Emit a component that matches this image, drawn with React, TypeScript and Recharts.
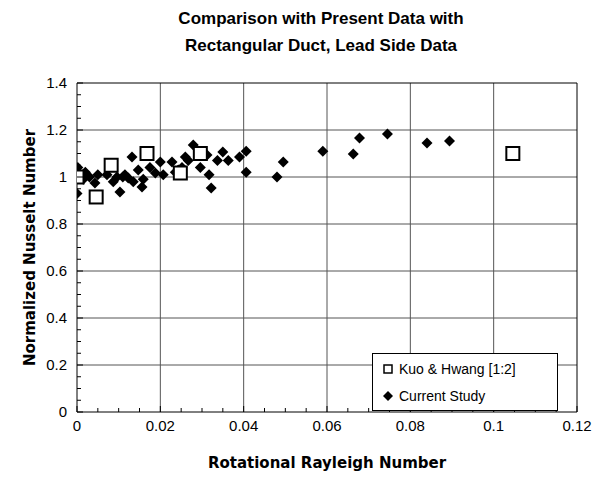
import React from 'react';
import { ScatterChart, Scatter, XAxis, YAxis, ReferenceLine, Legend } from 'recharts';

// Kuo & Hwang [1:2] (open squares)
const kuoX = [0.0, 0.0046, 0.0082, 0.0168, 0.0248, 0.0296, 0.1046];
const kuoY = [1.0, 0.915, 1.05, 1.1, 1.017, 1.1, 1.1];

// Current Study (filled diamonds)
const studyX = [
  0.0002, 0.0, 0.0015, 0.002, 0.003, 0.0043, 0.005, 0.0072, 0.0087, 0.0096,
  0.0103, 0.011, 0.0115, 0.0123, 0.0132, 0.0135, 0.0147, 0.0156, 0.0159, 0.0175,
  0.0188, 0.02, 0.0207, 0.0228, 0.0236, 0.0243, 0.0252, 0.026, 0.0267, 0.0279,
  0.0296, 0.0312, 0.0317, 0.0322, 0.0337, 0.035, 0.0363, 0.039, 0.0406, 0.0406,
  0.048, 0.0495, 0.059, 0.0663, 0.0678, 0.0745, 0.084, 0.0894,
];
const studyY = [
  1.04, 0.93, 0.99, 1.02, 1.0, 0.975, 1.01, 1.01, 0.98, 1.0,
  0.936, 1.0, 1.01, 0.996, 1.085, 0.98, 1.03, 0.957, 0.99, 1.04,
  1.017, 1.064, 1.01, 1.064, 1.02, 1.03, 1.04, 1.085, 1.07, 1.136,
  1.04, 1.094, 1.01, 0.953, 1.07, 1.106, 1.07, 1.085, 1.11, 1.02,
  1.0, 1.064, 1.11, 1.098, 1.166, 1.183, 1.145, 1.153,
];

const xMajor = [0, 0.02, 0.04, 0.06, 0.08, 0.1, 0.12];
const xTicks = [
  0, 0.005, 0.01, 0.015, 0.02, 0.025, 0.03, 0.035, 0.04, 0.045, 0.05, 0.055, 0.06,
  0.065, 0.07, 0.075, 0.08, 0.085, 0.09, 0.095, 0.1, 0.105, 0.11, 0.115, 0.12,
];
const yMajor = [0, 0.2, 0.4, 0.6, 0.8, 1, 1.2, 1.4];
const yTicks = [
  0, 0.05, 0.1, 0.15, 0.2, 0.25, 0.3, 0.35, 0.4, 0.45, 0.5, 0.55, 0.6, 0.65, 0.7,
  0.75, 0.8, 0.85, 0.9, 0.95, 1, 1.05, 1.1, 1.15, 1.2, 1.25, 1.3, 1.35, 1.4,
];

const kuoData = kuoX.map((x, i) => ({ x, y: kuoY[i] }));
const studyData = studyX.map((x, i) => ({ x, y: studyY[i] }));

const isMajor = (list: number[], v: number) => list.some((m) => Math.abs(m - v) < 1e-9);
const fmt = (v: number) => String(+v.toFixed(3));
const tickFont = { fontFamily: '"Liberation Sans", Arial, sans-serif', fontSize: 15, fill: '#000' };
const labelFont = { fontFamily: '"DejaVu Sans", sans-serif', fontSize: 15, fontWeight: 700, fill: '#000' };

const XTick = (props: any) => {
  const { x, y, payload } = props;
  const major = isMajor(xMajor, payload.value);
  return (
    <g>
      <line x1={x} x2={x} y1={y} y2={y - (major ? 6 : 4)} stroke="#000" />
      {major && (
        <text x={x} y={y + 19} textAnchor="middle" style={tickFont}>
          {fmt(payload.value)}
        </text>
      )}
    </g>
  );
};

const YTick = (props: any) => {
  const { x, y, payload } = props;
  const major = isMajor(yMajor, payload.value);
  return (
    <g>
      <line x1={x} x2={x + (major ? 6 : 4)} y1={y} y2={y} stroke="#000" />
      {major && (
        <text x={x - 10} y={y + 5} textAnchor="end" style={tickFont}>
          {fmt(payload.value)}
        </text>
      )}
    </g>
  );
};

const Diamond = (props: any) => {
  const { cx, cy } = props;
  const r = 5.5;
  return <path d={`M${cx},${cy - r}L${cx + r},${cy}L${cx},${cy + r}L${cx - r},${cy}Z`} fill="#000" />;
};

const OpenSquare = (props: any) => {
  const { cx, cy } = props;
  return <rect x={cx - 6.5} y={cy - 6.5} width={13} height={13} fill="#fff" stroke="#000" strokeWidth={2} />;
};

const LegendBox = () => (
  <div
    style={{
      border: '1px solid #000',
      width: 186,
      height: 58,
      boxSizing: 'border-box',
      fontFamily: '"Liberation Sans", Arial, sans-serif',
      fontSize: 14,
      color: '#000',
      background: '#fff',
      padding: '4px 0 0 10px',
    }}
  >
    <div style={{ display: 'flex', alignItems: 'center', height: 22 }}>
      <svg width={14} height={12}>
        <rect x={1} y={2} width={8} height={8} fill="#fff" stroke="#000" strokeWidth={1.5} />
      </svg>
      <span style={{ marginLeft: 2 }}>Kuo &amp; Hwang [1:2]</span>
    </div>
    <div style={{ display: 'flex', alignItems: 'center', height: 22, marginTop: 5 }}>
      <svg width={14} height={12}>
        <path d="M5,1L10,6L5,11L0,6Z" fill="#000" />
      </svg>
      <span style={{ marginLeft: 2 }}>Current Study</span>
    </div>
  </div>
);

export default function App() {
  return (
    <div style={{ position: 'absolute', left: 0, top: 0, width: 600, height: 483, background: '#fff' }}>
      <div
        style={{
          position: 'absolute',
          left: 21,
          top: 5,
          width: 600,
          textAlign: 'center',
          fontFamily: '"Liberation Sans", Arial, sans-serif',
          fontWeight: 700,
          fontSize: 17,
          lineHeight: '27px',
          color: '#000',
        }}
      >
        Comparison with Present Data with
        <br />
        Rectangular Duct, Lead Side Data
      </div>
      <ScatterChart width={600} height={483} margin={{ top: 83, right: 23, bottom: 11, left: 15 }}>
        <XAxis
          type="number"
          dataKey="x"
          domain={[0, 0.12]}
          ticks={xTicks}
          interval={0}
          tickSize={0}
          tickMargin={0}
          tickLine={false}
          tick={<XTick />}
          height={60}
          stroke="#000"
          allowDataOverflow
          label={{ value: 'Rotational Rayleigh Number', position: 'insideBottom', offset: 4, style: labelFont }}
        />
        <YAxis
          type="number"
          dataKey="y"
          domain={[0, 1.4]}
          ticks={yTicks}
          interval={0}
          tickSize={0}
          tickMargin={0}
          tickLine={false}
          tick={<YTick />}
          width={62}
          stroke="#000"
          allowDataOverflow
          label={{
            value: 'Normalized Nusselt Number',
            angle: -90,
            position: 'insideLeft',
            offset: 15,
            style: { ...labelFont, textAnchor: 'middle' },
          }}
        />
        {yMajor.slice(1, -1).map((v) => (
          <ReferenceLine key={`gy${v}`} y={v} stroke="#555" />
        ))}
        {xMajor.slice(1, -1).map((v) => (
          <ReferenceLine key={`gx${v}`} x={v} stroke="#555" />
        ))}
        <ReferenceLine y={1.4} stroke="#000" />
        <ReferenceLine x={0.12} stroke="#000" />
        <Legend
          layout="vertical"
          align="center"
          verticalAlign="middle"
          wrapperStyle={{ left: 372, top: 353, width: 186, height: 58 }}
          content={() => <LegendBox />}
        />
        <Scatter name="Current Study" data={studyData} shape={<Diamond />} isAnimationActive={false} />
        <Scatter name="Kuo & Hwang [1:2]" data={kuoData} shape={<OpenSquare />} isAnimationActive={false} />
      </ScatterChart>
    </div>
  );
}
